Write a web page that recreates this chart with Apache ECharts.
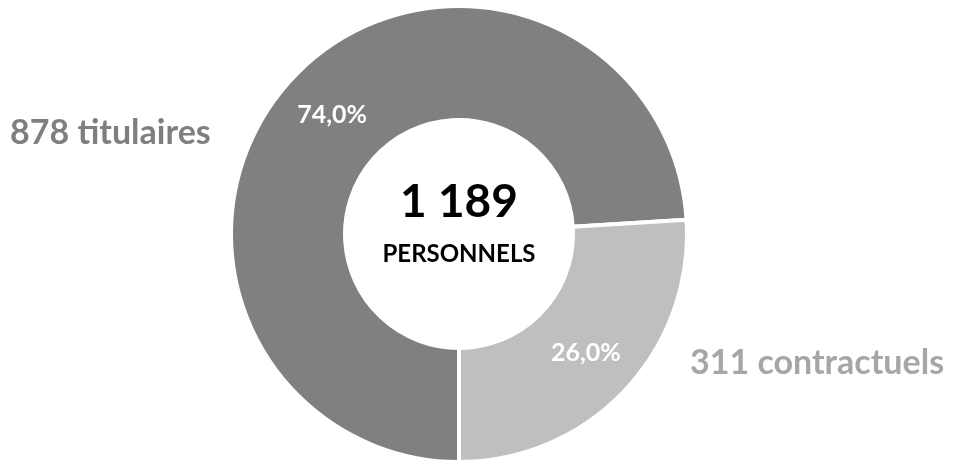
<!DOCTYPE html>
<html>
<head>
<meta charset="utf-8">
<script src="https://cdn.jsdelivr.net/npm/echarts@6/dist/echarts.min.js"></script>
<style>
  html, body { margin: 0; padding: 0; background: #fff; }
  #chart { width: 953px; height: 461px; }
</style>
</head>
<body>
<div id="chart"></div>
<script>
// values
const names = ['titulaires', 'contractuels'];
const counts = [878, 311];
const percents = [74.0, 26.0];
const sliceColors = ['#808080', '#bfbfbf'];
const nameColors = ['#7f7f7f', '#a6a6a6'];
const centerLabel = 'PERSONNELS';

const total = counts.reduce((a, b) => a + b, 0);
const fmtThousands = n => String(n).replace(/\B(?=(\d{3})+(?!\d))/g, ' ');
const fmtPct = p => p.toFixed(1).replace('.', ',') + '%';

const font = 'Lato, "Open Sans", sans-serif';
const cx = 459, cy = 234;

const chart = echarts.init(document.getElementById('chart'));

const option = {
  animation: false,
  series: [{
    type: 'pie',
    center: [cx, cy],
    radius: [114, 228],
    startAngle: -90,
    clockwise: true,
    avoidLabelOverlap: false,
    itemStyle: { borderColor: '#fff', borderWidth: 4 },
    label: {
      show: true,
      position: 'inside',
      color: '#fff',
      fontFamily: font,
      fontWeight: 'bold',
      fontSize: 25,
      formatter: p => fmtPct(p.value)
    },
    labelLine: { show: false },
    emphasis: { disabled: true },
    data: names.map((n, i) => ({
      name: n,
      value: percents[i],
      itemStyle: { color: sliceColors[i] }
    }))
  }],
  graphic: [
    {
      type: 'text', left: 10, top: 116,
      style: { text: counts[0] + ' ' + names[0], fill: nameColors[0], font: 'bold 34px ' + font }
    },
    {
      type: 'text', left: 690, top: 346,
      style: { text: counts[1] + ' ' + names[1], fill: nameColors[1], font: 'bold 34px ' + font }
    },
    {
      type: 'text', x: cx, y: 202,
      style: { text: fmtThousands(total), fill: '#000', font: 'bold 46px ' + font, textAlign: 'center', textVerticalAlign: 'middle' }
    },
    {
      type: 'text', x: cx, y: 254,
      style: { text: centerLabel, fill: '#000', font: 'bold 24px ' + font, textAlign: 'center', textVerticalAlign: 'middle' }
    }
  ]
};

chart.setOption(option);
</script>
</body>
</html>
